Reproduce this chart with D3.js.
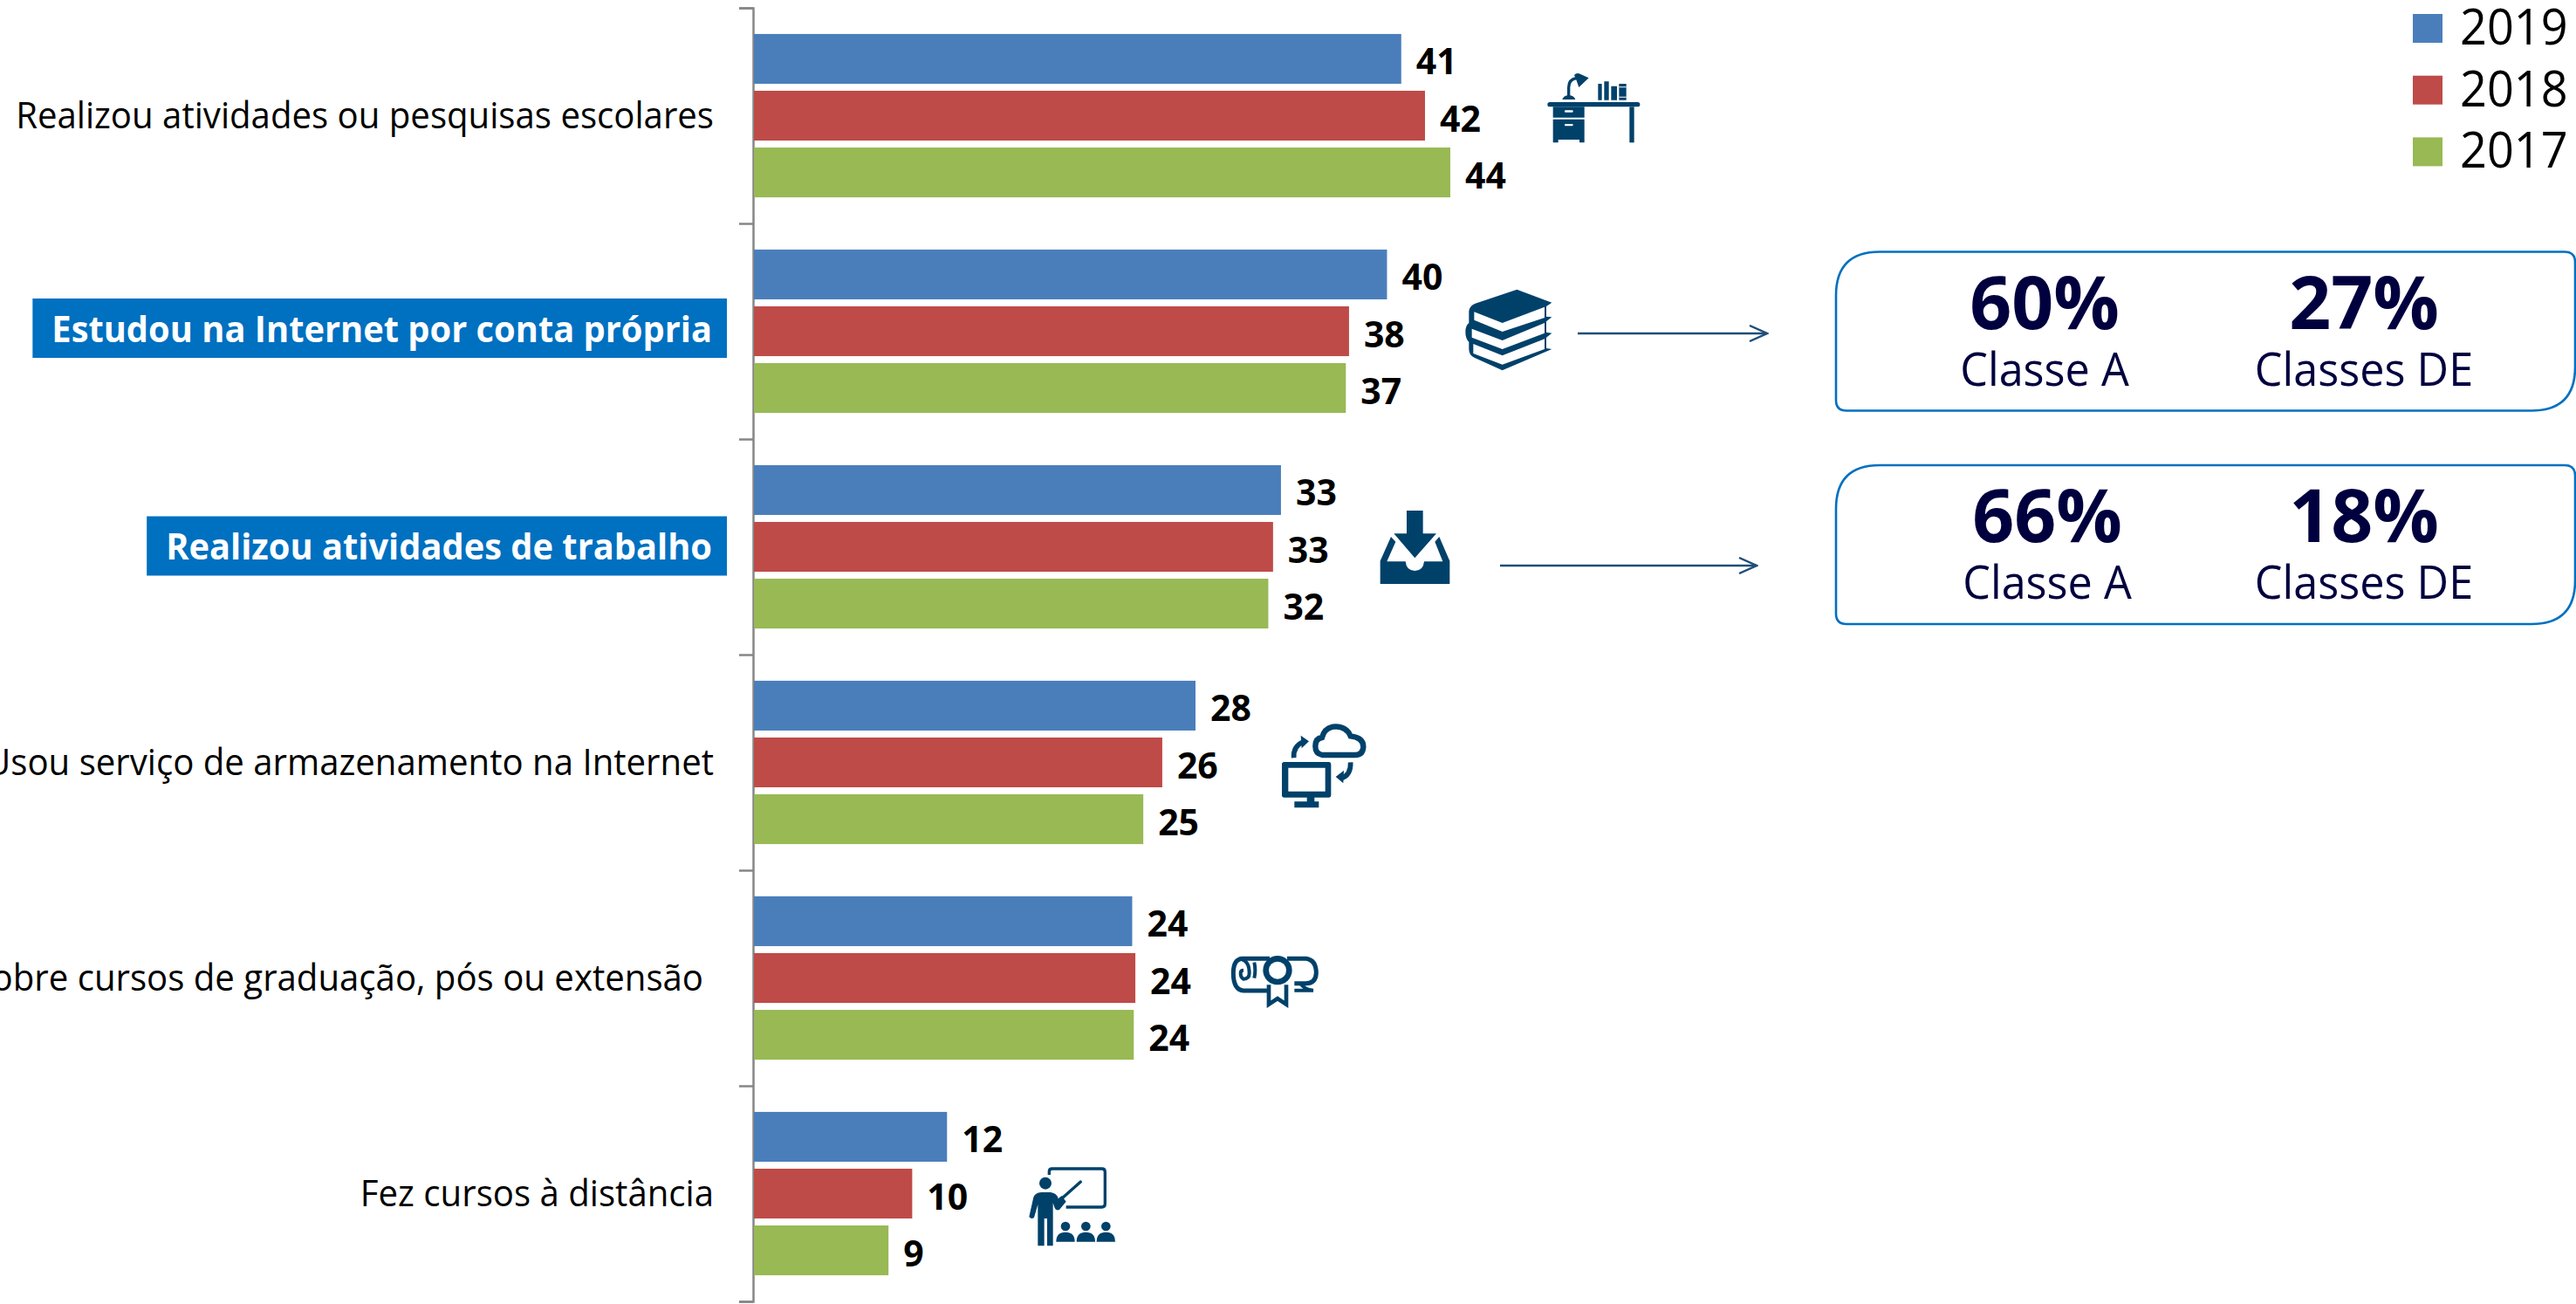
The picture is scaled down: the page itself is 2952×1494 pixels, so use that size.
<!DOCTYPE html>
<html>
<head>
<meta charset="utf-8">
<script src="https://cdn.jsdelivr.net/npm/d3@7"></script>
<style>
  html, body { margin: 0; padding: 0; background: #fff; overflow: hidden; }
  text { font-family: "Open Sans", "Noto Sans", sans-serif; }
</style>
</head>
<body>
<div id="chart"></div>
<script>
const categories = [
  "Realizou atividades ou pesquisas escolares",
  "Estudou na Internet por conta própria",
  "Realizou atividades de trabalho",
  "Usou serviço de armazenamento na Internet",
  "sobre cursos de graduação, pós ou extensão",
  "Fez cursos à distância"
];
const highlighted = ["Estudou na Internet por conta própria", "Realizou atividades de trabalho"];
const years = ["2019", "2018", "2017"];
const values2019 = [40.9, 40.0, 33.3, 27.9, 23.9, 12.2];
const values2018 = [42.4, 37.6, 32.8, 25.8, 24.1, 10.0];
const values2017 = [44.0, 37.4, 32.5, 24.6, 24.0, 8.5];
const labels2019 = [41, 40, 33, 28, 24, 12];
const labels2018 = [42, 38, 33, 26, 24, 10];
const labels2017 = [44, 37, 32, 25, 24, 9];
const colors = ["#4a7ebb", "#be4b48", "#98b954"];

const classBoxes = ["Estudou na Internet por conta própria", "Realizou atividades de trabalho"];
const classeA = ["60%", "66%"];
const classesDE = ["27%", "18%"];

const width = 2952, height = 1494;
const iconColor = "#00416a";
const navy = "#00003f";
const textSqueeze = 0.956; // Open Sans runs wider than the original font

const svg = d3.select("#chart").append("svg")
    .attr("width", width)
    .attr("height", height)
    .style("display", "block");

svg.append("defs").append("marker")
    .attr("id", "arrow")
    .attr("viewBox", "0 0 24 20")
    .attr("refX", 22).attr("refY", 10)
    .attr("markerWidth", 24).attr("markerHeight", 20)
    .attr("markerUnits", "userSpaceOnUse")
    .attr("orient", "auto")
    .append("path")
    .attr("d", "M2,1 L22,10 L2,19")
    .attr("fill", "none")
    .attr("stroke", "#1f4e79")
    .attr("stroke-width", 2.4);

// Scales
const x = d3.scaleLinear().domain([0, 44]).range([864, 1662]);
const y0 = d3.scaleBand().domain(categories).range([9, 1491]);
const y1 = d3.scaleBand().domain(years).range([0, y0.bandwidth()])
    .paddingInner(0.123).paddingOuter(0.46);

// Axis, ticks sit on the borders of the groups
const axisScale = d3.scaleLinear().domain([0, categories.length]).range(y0.range());
const axis = svg.append("g")
    .attr("transform", "translate(863,0)")
    .call(d3.axisLeft(axisScale).ticks(categories.length).tickFormat("").tickSize(16));
axis.selectAll("path, line").attr("stroke", "#868686").attr("stroke-width", 2.5);

// Bars
const series = [
  { year: years[0], values: values2019, labels: labels2019, color: colors[0] },
  { year: years[1], values: values2018, labels: labels2018, color: colors[1] },
  { year: years[2], values: values2017, labels: labels2017, color: colors[2] }
];

series.forEach(s => {
  const g = svg.append("g");
  g.selectAll("rect")
      .data(s.values)
      .enter()
      .append("rect")
      .attr("x", x(0))
      .attr("y", (d, i) => y0(categories[i]) + y1(s.year))
      .attr("width", d => x(d) - x(0))
      .attr("height", y1.bandwidth())
      .attr("fill", s.color);
  g.selectAll("text")
      .data(s.values)
      .enter()
      .append("text")
      .attr("x", d => x(d) + 17)
      .attr("y", (d, i) => y0(categories[i]) + y1(s.year) + y1.bandwidth() / 2 + 18)
      .attr("font-size", 41)
      .attr("font-weight", 700)
      .attr("fill", "#000")
      .text((d, i) => s.labels[i]);
});

// squeeze a text selection to the width of the original font
function squeeze(sel, k) {
  sel.each(function () {
    const len = this.getComputedTextLength();
    d3.select(this).attr("textLength", len * k).attr("lengthAdjust", "spacingAndGlyphs");
  });
}

// Category labels
const labelRight = 818;
const labelBg = svg.append("g");
categories.forEach((c, i) => {
  const isHi = highlighted.includes(c);
  const mid = y0(c) + y0.bandwidth() / 2;
  const right = isHi ? labelRight - 2 : (i === 4 ? labelRight - 12 : labelRight);
  // the first highlighted label sits a little higher than the second
  const shift = i === 1 ? -1.5 : 0;
  const t = svg.append("text")
      .attr("x", right)
      .attr("y", mid + 14 + shift)
      .attr("text-anchor", "end")
      .attr("font-size", 42)
      .attr("font-weight", isHi ? 700 : 400)
      .attr("fill", isHi ? "#fff" : "#000")
      .text(c)
      .call(squeeze, isHi ? 0.948 : textSqueeze);
  if (isHi) {
    const left = t.node().getBBox().x - 22;
    labelBg.append("rect")
        .attr("x", left)
        .attr("y", i === 1 ? 342 : mid - 35)
        .attr("width", 833 - left)
        .attr("height", 68)
        .attr("fill", "#0070c0");
  }
});

// Legend
years.forEach((yr, i) => {
  const top = 16 + i * 70.7;
  svg.append("rect")
      .attr("x", 2765).attr("y", top)
      .attr("width", 34).attr("height", 33)
      .attr("fill", colors[i]);
  svg.append("text")
      .attr("x", 2819).attr("y", top + 35)
      .attr("font-size", 56)
      .attr("fill", "#000")
      .text(yr)
      .call(squeeze, 0.965);
});

// Boxes with the class figures
function diagBox(left, top, right, bottom, big, small) {
  return `M${left + big},${top} H${right - small} Q${right},${top} ${right},${top + small}
    V${bottom - big} Q${right},${bottom} ${right - big},${bottom}
    H${left + small} Q${left},${bottom} ${left},${bottom - small}
    V${top + big} Q${left},${top} ${left + big},${top} Z`;
}

const boxTop = d3.scaleOrdinal().domain(classBoxes).range([288.5, 533]);
classBoxes.forEach((c, i) => {
  const top = boxTop(c);
  svg.append("path")
      .attr("d", diagBox(2104, top, 2951, top + 182, 50, 12))
      .attr("fill", "#fff")
      .attr("stroke", "#0070c0")
      .attr("stroke-width", 2.6);
  const aX = i === 0 ? 2343 : 2346;
  [[aX, classeA[i], "Classe A"], [2709, classesDE[i], "Classes DE"]].forEach(d => {
    svg.append("text")
        .attr("x", d[0]).attr("y", top + 88)
        .attr("text-anchor", "middle")
        .attr("font-size", 84)
        .attr("font-weight", 700)
        .attr("fill", navy)
        .text(d[1]);
    svg.append("text")
        .attr("x", d[0]).attr("y", top + 153)
        .attr("text-anchor", "middle")
        .attr("font-size", 53)
        .attr("fill", navy)
        .text(d[2])
        .call(squeeze, 0.95);
  });
});

// Arrows
svg.append("line").attr("x1", 1808).attr("x2", 2025).attr("y1", 382).attr("y2", 382)
    .attr("stroke", "#1f4e79").attr("stroke-width", 2.4).attr("marker-end", "url(#arrow)");
svg.append("line").attr("x1", 1719).attr("x2", 2013).attr("y1", 648).attr("y2", 648)
    .attr("stroke", "#1f4e79").attr("stroke-width", 2.4).attr("marker-end", "url(#arrow)");

// Icons, drawn in the coordinates of a 3x crop
function icon(tx, ty) {
  return svg.append("g")
      .attr("transform", `translate(${tx},${ty}) scale(${1 / 3})`)
      .attr("fill", iconColor)
      .attr("stroke", "none");
}
function fillPath(g, d) { return g.append("path").attr("d", d); }
function linePath(g, d, w) {
  return g.append("path").attr("d", d).attr("fill", "none")
      .attr("stroke", iconColor).attr("stroke-width", w);
}

// desk
const desk = icon(1650, 50);
desk.append("rect").attr("x", 370).attr("y", 201).attr("width", 318).attr("height", 16).attr("rx", 8);
fillPath(desk, "M389,217 H497 V254 H389 Z");
fillPath(desk, "M389,260 H497 V340 H480 V330 H407 V340 H389 Z");
fillPath(desk, "M652,217 H668 V340 H652 Z");
desk.append("rect").attr("x", 429).attr("y", 229).attr("width", 29).attr("height", 7).attr("rx", 3).attr("fill", "#fff");
desk.append("rect").attr("x", 429).attr("y", 276).attr("width", 29).attr("height", 7).attr("rx", 3).attr("fill", "#fff");
fillPath(desk, "M421,192 Q425,178 443,177 Q462,178 466,192 Z");
linePath(desk, "M443,180 V150 Q443,122 472,118", 10);
fillPath(desk, "M462,108 Q470,98 484,105 L512,118 L478,150 Q470,125 462,108 Z");
fillPath(desk, "M544,138 H557 V194 H544 Z M565,130 H581 V194 H565 Z M589,146 H609 V194 H589 Z M616,138 H641 V194 H616 Z");
desk.append("path").attr("d", "M616,148 H641 V151 H616 Z M616,182 H641 V185 H616 Z").attr("fill", "#fff");

// books
const books = icon(1670, 320);
fillPath(books, "M205,35 L325,80 L306,93 V128 L325,130 L306,145 V182 L325,185 L306,200 V237 L325,240 L155,313 L60,270 Q40,262 40,240 V215 Q28,205 28,180 Q28,160 40,150 V110 Q42,90 62,83 Z");
books.append("path")
    .attr("fill", "#fff")
    .attr("d", "M58,112 L155,150 L300,95 V132 L155,180 L58,140 Z M50,170 L155,210 L300,150 V185 L155,240 L50,200 Z M55,222 L155,262 L300,205 V240 L155,293 L55,255 Z");

// inbox
const inbox = icon(1550, 560);
fillPath(inbox, "M186,75 H242 V154 H288 L214,238 L142,154 H186 Z");
fillPath(inbox, "M95,248 L132,165 L148,182 L118,250 H182 Q185,282 214,282 Q243,282 246,250 H310 L283,182 L298,165 L334,248 V327 H95 Z");

// cloud and monitor
const cloud = icon(1400, 780);
fillPath(cloud, "M215,279 H368 Q376,279 376,287 V393 Q376,401 368,401 H319 V415 H334 V436 H250 V415 H293 V401 H215 Q207,401 207,393 V287 Q207,279 215,279 Z M229,299 V380 H356 V299 Z").attr("fill-rule", "evenodd");
linePath(cloud, "M345,255 Q322,250 322,225 Q322,198 345,195 Q355,158 392,157 Q430,158 443,190 Q488,195 487,228 Q485,255 458,255 Z", 19);
linePath(cloud, "M248,265 Q245,225 280,210", 17);
fillPath(cloud, "M272,188 L300,208 L275,232 Z");
linePath(cloud, "M443,280 Q445,325 410,335", 17);
fillPath(cloud, "M392,330 L420,308 L418,352 Z");

// diploma
const diploma = icon(1380, 1060);
linePath(diploma, "M225,115 H130 Q100,118 100,165 Q100,222 135,225 H220", 15);
linePath(diploma, "M285,115 H350 Q385,120 385,165 Q383,200 350,200 H310", 15);
linePath(diploma, "M130,118 Q155,125 155,165 Q155,185 135,185 Q125,180 125,165 Q125,155 135,155", 12);
linePath(diploma, "M172,128 Q178,155 172,182 M330,200 Q345,222 375,224 H310", 12);
linePath(diploma, "M222,205 V272 L252,252 L282,272 V205", 14);
diploma.append("circle").attr("cx", 252).attr("cy", 155).attr("r", 50);
diploma.append("circle").attr("cx", 252).attr("cy", 155).attr("r", 30).attr("fill", "#fff");

// teacher
const teacher = icon(1150, 1310);
linePath(teacher, "M157,108 V97 Q157,87 167,87 H338 Q349,87 349,98 V208 Q349,219 338,219 H215", 10);
linePath(teacher, "M200,190 L265,132", 10).attr("stroke-linecap", "round");
teacher.append("circle").attr("cx", 144).attr("cy", 137).attr("r", 21);
fillPath(teacher, "M130,168 H162 Q185,172 188,190 L200,180 L215,200 L192,228 Q180,232 176,222 L170,205 V352 H150 V258 H140 V352 H118 V210 L105,255 Q95,262 88,252 L103,185 Q108,170 130,168 Z");
[213, 283, 352].forEach(cx => {
  teacher.append("circle").attr("cx", cx).attr("cy", 285).attr("r", 16);
  fillPath(teacher, `M${cx - 32},338 Q${cx - 32},305 ${cx},305 Q${cx + 32},305 ${cx + 32},338 Z`);
});
</script>
</body>
</html>
